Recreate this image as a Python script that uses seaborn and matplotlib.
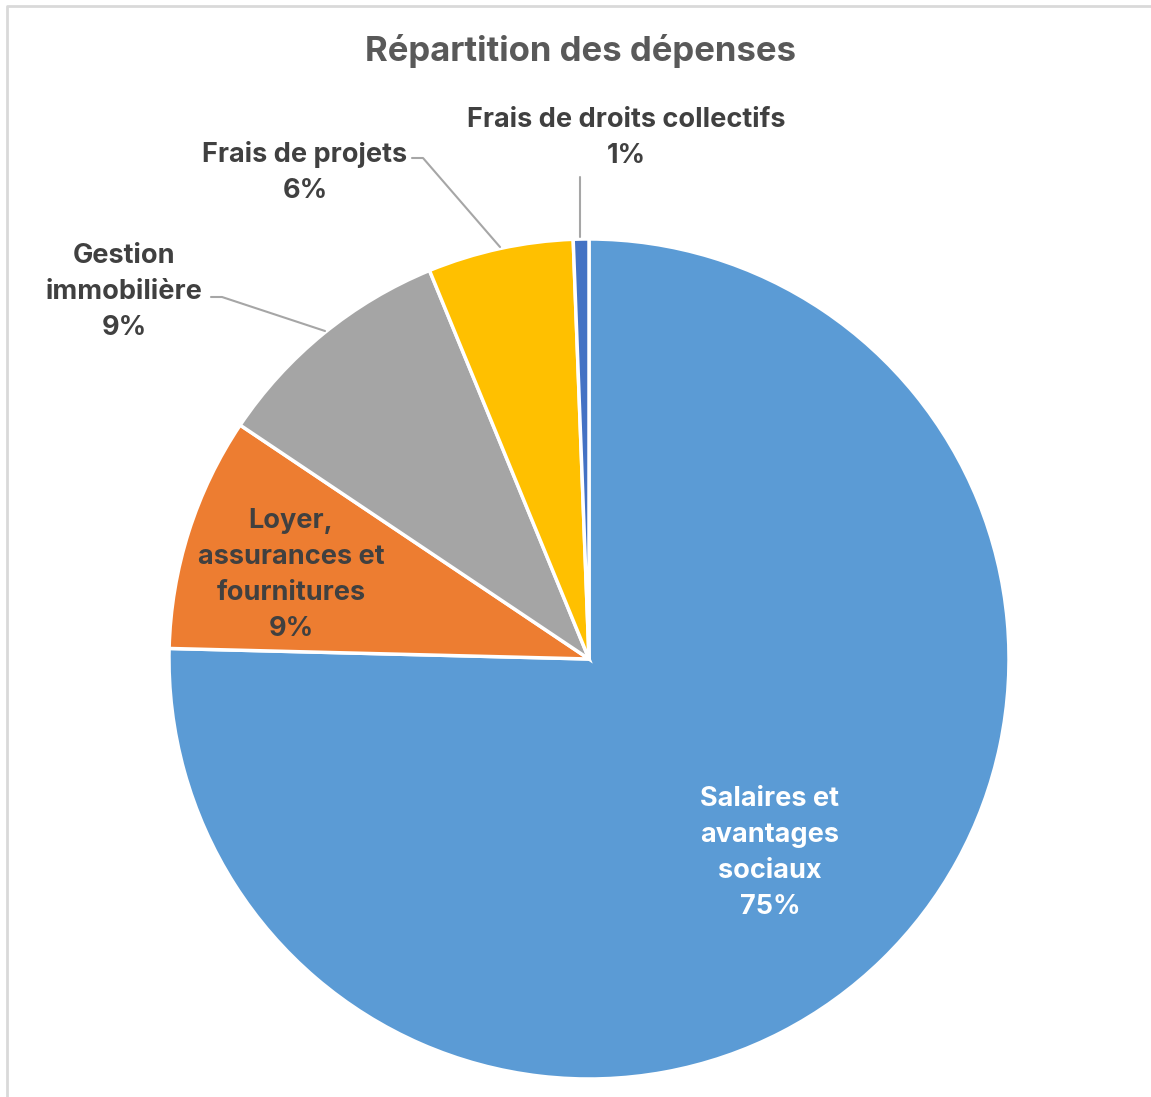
import matplotlib
matplotlib.use("Agg")
import matplotlib.pyplot as plt
import seaborn as sns

categories = ["Salaires et\navantages\nsociaux", "Loyer,\nassurances et\nfournitures",
              "Gestion\nimmobilière", "Frais de projets", "Frais de droits collectifs"]
values = [75.4, 9.0, 9.4, 5.6, 0.6]
pct_labels = ["75%", "9%", "9%", "6%", "1%"]
colors = ["#5B9BD5", "#ED7D31", "#A5A5A5", "#FFC000", "#4472C4"]

sns.set_theme(style="white")
plt.rcParams['font.family'] = ['Inter', 'DejaVu Sans']

W, H = 1151, 1097
fig = plt.figure(figsize=(W / 100, H / 100), dpi=100)
ax = fig.add_axes([0, 0, 1, 1])
ax.set_xlim(0, W)
ax.set_ylim(H, 0)
ax.axis("off")

cx, cy, r = 589, 659, 420
ax.pie(values, colors=colors, startangle=-90, counterclock=True,
       center=(cx, cy), radius=r, frame=False,
       wedgeprops=dict(edgecolor="white", linewidth=2.5))
ax.set_xlim(0, W)
ax.set_ylim(H, 0)
ax.set_aspect("auto")

# border
ax.plot([7, 7, W + 5], [H + 5, 6, 6], color="#D9D9D9", lw=2, clip_on=False)

ax.text(581, 51, "Répartition des dépenses", ha="center", va="center",
        fontsize=25, fontweight="bold", color="#595959")

lab_color = "#404040"
pos = [(770, 853), (291, 575), (124, 292), (305, 172), (626, 138)]
for i, (cat, p) in enumerate(zip(categories, pct_labels)):
    c = "white" if i == 0 else lab_color
    ax.text(pos[i][0], pos[i][1], cat + "\n" + p, ha="center", va="center",
            fontsize=19.5, fontweight="bold", color=c, linespacing=1.5)

lc = "#A6A6A6"
ax.plot([211, 222, 325], [297, 297, 331], color=lc, lw=1.5)
ax.plot([412, 423, 500], [158, 158, 247], color=lc, lw=1.5)
ax.plot([580, 580], [177, 237], color=lc, lw=1.5)

fig.savefig("out.png", dpi=100, facecolor="white")
